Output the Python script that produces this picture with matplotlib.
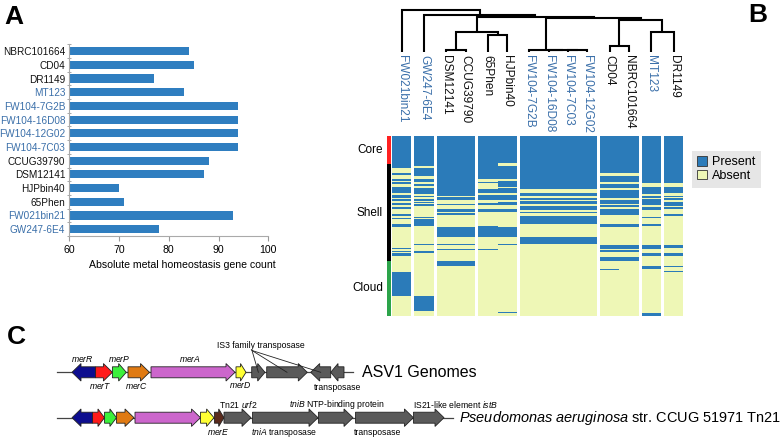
import matplotlib
matplotlib.use('Agg')
import matplotlib.pyplot as plt
from matplotlib.patches import FancyArrow, Patch
import numpy as np

plt.rcParams['font.family'] = ['Liberation Sans', 'DejaVu Sans']
plt.rcParams['mathtext.fontset'] = 'custom'
plt.rcParams['mathtext.rm'] = 'Liberation Sans'
plt.rcParams['mathtext.it'] = 'Liberation Sans:italic'
plt.rcParams['mathtext.bf'] = 'Liberation Sans:bold'

# ---------------- data: panel A ----------------
bar_genomes = ['NBRC101664', 'CD04', 'DR1149', 'MT123', 'FW104-7G2B', 'FW104-16D08',
               'FW104-12G02', 'FW104-7C03', 'CCUG39790', 'DSM12141', 'HJPbin40',
               '65Phen', 'FW021bin21', 'GW247-6E4']
bar_counts = [84, 85, 77, 83, 94, 94, 94, 94, 88, 87, 70, 71, 93, 78]
highlight = ['MT123', 'FW104-7G2B', 'FW104-16D08', 'FW104-12G02', 'FW104-7C03',
             'FW021bin21', 'GW247-6E4']

# ---------------- data: panel B ----------------
leaves = ['FW021bin21', 'GW247-6E4', 'DSM12141', 'CCUG39790', '65Phen', 'HJPbin40',
          'FW104-7G2B', 'FW104-16D08', 'FW104-7C03', 'FW104-12G02', 'CD04',
          'NBRC101664', 'MT123', 'DR1149']
leaf_cluster = [0, 1, 2, 2, 3, 3, 4, 4, 4, 4, 5, 5, 6, 7]
# merges: (child a, child b, height); leaves 0..13, merges numbered from 14
merges = [(2, 3, 0.05), (4, 5, 0.405), (14, 15, 0.476), (8, 9, 0.05), (7, 17, 0.05),
          (6, 18, 0.05), (10, 11, 0.143), (12, 13, 0.476), (20, 21, 0.762),
          (19, 22, 0.81), (16, 23, 0.833), (1, 24, 0.881), (0, 25, 1.0)]
n_genes = 180
pan_names = ['Core', 'Shell', 'Cloud']
pan_bounds = [0, 28, 125, 180]
fw104 = [(0, 53), (57, 59.5), (61.5, 63.5), (65, 67.5), (69.5, 73.5), (75.5, 77), (80, 88), (101.5, 108)]
dsm_ccug = [(0, 60), (61, 64), (68, 69), (73, 76), (77, 79), (91.5, 101.5), (108, 109.5),
            (113.5, 114.5), (125.5, 130)]
present = {
    'FW021bin21': [(0, 32), (37, 39), (43, 44.5), (46, 48), (51, 57), (59, 61.5), (63, 64.5),
                   (67, 69), (70.5, 72.5), (78, 80), (81.5, 82.5), (88, 91), (112.5, 113.5),
                   (115, 116), (117, 120), (136.5, 160)],
    'GW247-6E4': [(0, 29.5), (31.5, 39.5), (42.5, 46), (48, 50), (52, 57.5), (59.5, 61),
                  (62.5, 64.5), (65.5, 66.5), (68, 70), (81, 82), (83, 90.5), (108, 109.5),
                  (115.5, 117), (160, 175.5)],
    'DSM12141': dsm_ccug,
    'CCUG39790': dsm_ccug,
    '65Phen': [(0, 43), (45.5, 47), (52.5, 57), (58.5, 63.5), (66.5, 68.5), (73, 75.5),
               (90.5, 101.5), (113.5, 114.5)],
    'HJPbin40': [(0, 27), (29.5, 43), (44.5, 50.5), (52, 57), (58.5, 63.5), (65.5, 68.5),
                 (73, 75.5), (91.5, 101.5), (108, 109.5), (176, 177.5)],
    'FW104-7G2B': fw104, 'FW104-16D08': fw104, 'FW104-7C03': fw104, 'FW104-12G02': fw104,
    'CD04': [(0, 37), (39.5, 46), (47.5, 52), (53.5, 62), (63.5, 67.5), (68.5, 70.5),
             (72.5, 78.5), (88, 91), (109.5, 113), (114.5, 116.5), (121.5, 125.5), (133, 134.5)],
    'NBRC101664': [(0, 37), (39.5, 46), (47.5, 52), (53.5, 62), (63.5, 67.5), (68.5, 70.5),
                   (72.5, 78.5), (88, 91), (109.5, 113), (114.5, 116.5), (121.5, 125.5)],
    'MT123': [(0, 47), (51, 58), (60, 61.5), (62.5, 68.5), (70.5, 73.5), (80.5, 81.5),
              (88, 90.5), (109.5, 113), (117, 120.5), (130.5, 133), (177.5, 180)],
    'DR1149': [(0, 47), (51, 57), (59.5, 60.5), (62, 64), (65.5, 69.5), (70.5, 72.5),
               (78, 80), (109.5, 112.5), (117.5, 120.5), (130.5, 131.5), (135, 136.5)],
}

# ---------------- data: panel C ----------------
track1_tail = [95.6, 95.6, 112.4, 128.0, 151.0, 236.0, 251.7, 266.7, 330.7, 344.0]
track1_tip = [72.0, 112.4, 126.3, 149.5, 235.0, 246.0, 265.0, 307.3, 310.7, 330.7]
track1_kind = ['merR', 'merT', 'merP', 'merC', 'merA', 'merD', 'tnp', 'tnp', 'tnp', 'tnp']
track2_tail = [92.6, 92.6, 104.5, 116.5, 135.0, 200.5, 214.4, 224.0, 252.5, 318.4, 355.5, 413.4]
track2_tip = [72.0, 104.5, 116.5, 134.0, 200.5, 214.0, 224.0, 251.0, 318.0, 353.0, 413.4, 444.0]
track2_kind = ['merR', 'merT', 'merP', 'merC', 'merA', 'merD', 'merE', 'tnp', 'tnp', 'tnp', 'tnp', 'tnp']
track_names = ['ASV1 Genomes', r'$\it{Pseudomonas\ aeruginosa}$ str. CCUG 51971 Tn21']

# ---------------- style ----------------
W, H = 784, 438
BAR = '#2f7ec0'
BLUE = '#2b7bb9'
YEL = '#eef7b6'
LBLUE = '#3a6fa9'
gene_colors = {'merR': '#0d0d8f', 'merT': '#ff1a1a', 'merP': '#3cf03c', 'merC': '#e07a12',
               'merA': '#cc66cc', 'merD': '#ffff33', 'merE': '#5a2a1c', 'tnp': '#5a5a5a'}

fig = plt.figure(figsize=(W / 100, H / 100), dpi=100)


def px_axes(x0, y0, x1, y1, **kw):
    return fig.add_axes([x0 / W, 1 - y1 / H, (x1 - x0) / W, (y1 - y0) / H], **kw)


# ---------------- panel A ----------------
axA = px_axes(69.3, 44.3, 268.3, 236)
ya = np.arange(len(bar_genomes))
axA.barh(ya, bar_counts, height=0.6, color=BAR)
axA.set_xlim(60, 100)
axA.set_ylim(len(bar_genomes) - 0.5, -0.5)
axA.set_xticks([60, 70, 80, 90, 100])
axA.set_yticks(ya)
axA.set_yticklabels(bar_genomes)
for lab in axA.get_yticklabels():
    lab.set_color(LBLUE if lab.get_text() in highlight else '#111111')
axA.set_yticks(np.arange(len(bar_genomes) + 1) - 0.5, minor=True)
axA.tick_params(axis='y', which='major', length=0, labelsize=7.2, pad=3)
axA.tick_params(axis='y', which='minor', length=3, color='#999999', direction='inout')
axA.tick_params(axis='x', length=3.5, color='#999999', labelsize=7.6, pad=3)
for s in ['top', 'right']:
    axA.spines[s].set_visible(False)
for s in ['left', 'bottom']:
    axA.spines[s].set_color('#aaaaaa')
axA.set_xlabel('Absolute metal homeostasis gene count', fontsize=7.6)
axA.xaxis.label.set_horizontalalignment('right')
axA.xaxis.set_label_coords(1.035, -0.125)

# ---------------- panel B: heatmap ----------------
gap = 0.155
col_left = []
pos = 0.0
for i, c in enumerate(leaf_cluster):
    if i > 0 and c != leaf_cluster[i - 1]:
        pos += gap
    col_left.append(pos)
    pos += 1.0
total = pos

axB = px_axes(386.2, 136.3, 683.3, 315.7)
axB.set_xlim(-0.3, total)
axB.set_ylim(n_genes, 0)
axB.axis('off')
for i, g in enumerate(leaves):
    axB.bar(col_left[i] + 0.5, n_genes, bottom=0, width=1.0, color=YEL, linewidth=0)
    spans = present[g]
    st = np.array([s for s, e in spans])
    en = np.array([e for s, e in spans])
    axB.bar(np.full(len(st), col_left[i] + 0.5), en - st, bottom=st, width=1.0,
            color=BLUE, linewidth=0)
pan_colors = ['#ff2020', '#000000', '#2ca44a']
for k, name in enumerate(pan_names):
    axB.bar(-0.171, pan_bounds[k + 1] - pan_bounds[k], bottom=pan_bounds[k], width=0.208,
            color=pan_colors[k], linewidth=0)
    axB.text(-0.47, (pan_bounds[k] + pan_bounds[k + 1]) / 2, name, ha='right', va='center',
             fontsize=8.5, clip_on=False)

# ---------------- panel B: dendrogram ----------------
axD = px_axes(386.2, 10, 683.3, 52)
axD.set_xlim(-0.3, total)
axD.set_ylim(0, 1)
axD.axis('off')
node_x = [col_left[i] + 0.5 for i in range(len(leaves))]
node_h = [0.0] * len(leaves)
for a, b, h in merges:
    xa, xb = node_x[a], node_x[b]
    axD.plot([xa, xa, xb, xb], [node_h[a], h, h, node_h[b]], color='black', lw=1.5,
             solid_capstyle='butt', solid_joinstyle='miter', clip_on=False)
    node_x.append((xa + xb) / 2)
    node_h.append(h)
for i, g in enumerate(leaves):
    axD.text(node_x[i], -3 / 42, g, rotation=-90, ha='center', va='top', fontsize=8.6,
             color=LBLUE if g in highlight else '#111111', clip_on=False)

fig.legend(handles=[Patch(facecolor=BLUE, edgecolor='#333333', lw=0.6, label='Present'),
                    Patch(facecolor=YEL, edgecolor='#333333', lw=0.6, label='Absent')],
           loc='upper left', bbox_to_anchor=(691.7 / W, 1 - 150.7 / H), frameon=True,
           facecolor='#e6e6e6', edgecolor='none', fancybox=False, framealpha=1,
           fontsize=9, handlelength=0.75, handleheight=0.75, handletextpad=0.4,
           borderpad=0.45, labelspacing=0.15, borderaxespad=0)

# ---------------- panel C ----------------
axC = px_axes(0, 0, W, H)
axC.set_xlim(0, W)
axC.set_ylim(H, 0)
axC.axis('off')
axC.patch.set_alpha(0)

track_y = [372.3, 417.7]
tracks = [(track1_tail, track1_tip, track1_kind), (track2_tail, track2_tip, track2_kind)]
line_end = [353.3, 453.0]
for t, (tails, tips, kinds) in enumerate(tracks):
    y = track_y[t]
    axC.plot([57, line_end[t]], [y, y], color='#444444', lw=0.9, zorder=1)
    for a, b, k in zip(tails, tips, kinds):
        L = b - a
        hl = min(9.0, 0.55 * abs(L))
        axC.add_patch(FancyArrow(a, y, L, 0, width=11, head_width=17.5, head_length=hl,
                                 length_includes_head=True, facecolor=gene_colors[k],
                                 edgecolor='#222222', lw=0.6, zorder=2))

axC.text(362, track_y[0], track_names[0], fontsize=11.5, va='center', ha='left')
axC.text(459, track_y[1] + 0.5, track_names[1], fontsize=10.45, va='center', ha='left')

lab_kw = dict(fontsize=6.2, ha='center', va='center')
for txt, x, y in [('merR', 82, 359), ('merP', 119, 359), ('merA', 190, 359),
                  ('merT', 100, 386), ('merC', 137, 386), ('merD', 240, 385.5)]:
    axC.text(x, y, r'$\it{%s}$' % txt, **lab_kw)
axC.text(261, 346, 'IS3 family transposase', **lab_kw)
axC.text(338, 387, 'transposase', **lab_kw)
for gi in [6, 7, 8]:
    gx = (track1_tail[gi] + track1_tip[gi]) / 2
    axC.plot([252, gx], [350.5, track_y[0]], color='#222222', lw=0.6, zorder=3)

for txt, x, y in [(r'Tn21 $\it{urf2}$', 238, 404.3), (r'$\it{tniB}$ NTP-binding protein', 337, 404.3),
                  (r'IS21-like element $\it{istB}$', 456, 404.3),
                  (r'$\it{merE}$', 218, 432.3), (r'$\it{tniA}$ transposase', 284, 432.3),
                  ('transposase', 378, 432.3)]:
    axC.text(x, y, txt, **lab_kw)

# panel letters
for letter, x, y in [('A', 4, 5), ('B', 748, 3), ('C', 7, 325)]:
    fig.text(x / W, 1 - y / H, letter, fontsize=19, fontweight='bold', va='top', ha='left')

fig.savefig('out.png', dpi=100)
